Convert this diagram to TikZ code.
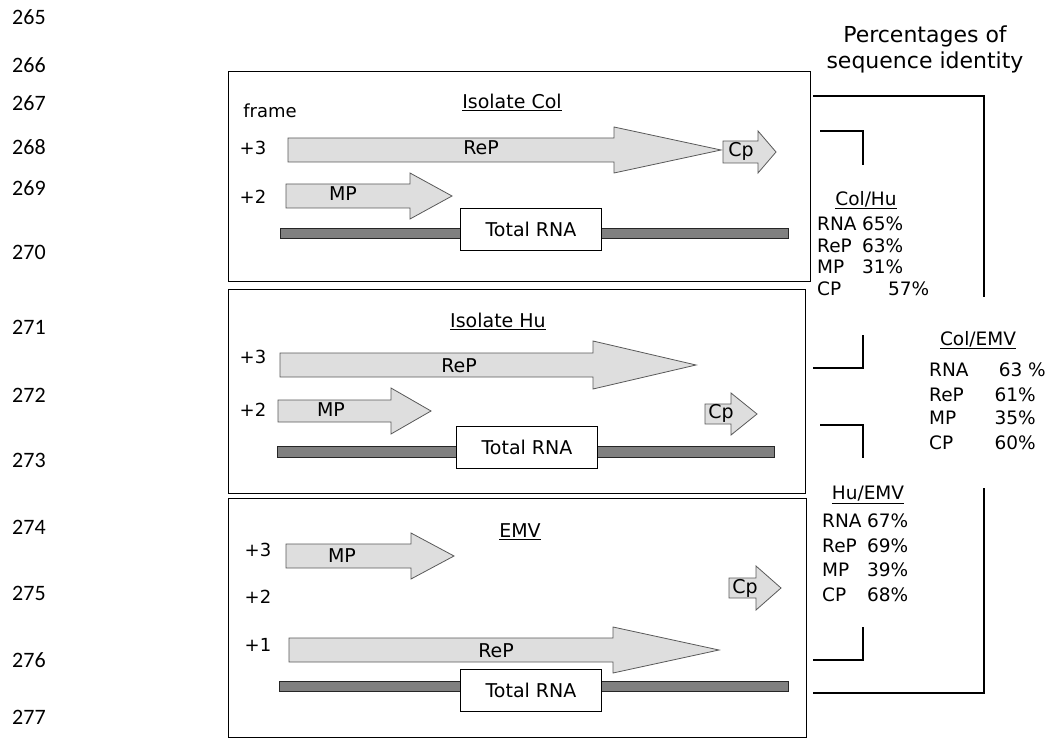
\documentclass[tikz,border=0pt]{standalone}
\usepackage{fontspec}
\setmainfont{DejaVu Sans}
\newfontfamily\numfont{Carlito}
\begin{document}
\begin{tikzpicture}[x=1pt,y=-1pt,
  panel/.style={draw=black, line width=1pt},
  gene/.style={draw=black!65, line width=0.8pt, fill=black!13},
  rnabar/.style={draw=black!85, line width=0.8pt, fill=black!50},
  rnabox/.style={draw=black, line width=0.8pt, fill=white, inner sep=0pt, minimum width=141pt, minimum height=42pt, font=\fontsize{19}{19}\selectfont},
  lbl/.style={font=\fontsize{19}{19}\selectfont, inner sep=0pt},
  frm/.style={font=\fontsize{18}{18}\selectfont, inner sep=0pt},
  lineno/.style={font=\numfont\fontsize{22}{22}\selectfont, anchor=west, inner sep=0pt},
  pct/.style={font=\fontsize{18.5}{18.5}\selectfont, anchor=west, inner sep=0pt},
  bracket/.style={draw=black, line width=1.5pt}]
\useasboundingbox (0,0) rectangle (1050,738);
% line numbers
\node[lineno] (n265) at (12,17) {265};
\node[lineno] (n266) at (12,65) {266};
\node[lineno] (n267) at (12,103) {267};
\node[lineno] (n268) at (12,147) {268};
\node[lineno] (n269) at (12,188) {269};
\node[lineno] (n270) at (12,252) {270};
\node[lineno] (n271) at (12,327) {271};
\node[lineno] (n272) at (12,395) {272};
\node[lineno] (n273) at (12,460) {273};
\node[lineno] (n274) at (12,527) {274};
\node[lineno] (n275) at (12,593) {275};
\node[lineno] (n276) at (12,660) {276};
\node[lineno] (n277) at (12,717) {277};
% panels
\node[panel, anchor=north west, minimum width=582pt, minimum height=210pt] (col) at (228,71) {};
\node[panel, anchor=north west, minimum width=577pt, minimum height=204pt] (hu) at (228,289) {};
\node[panel, anchor=north west, minimum width=578pt, minimum height=239pt] (emv) at (228,498) {};
% isolate Col
\node[lbl] (tcol) at (512,102) {\underline{Isolate Col}};
\node[frm] (frame) at (270,111) {frame};
\node[frm] (c3) at (253,148) {+3};
\node[frm] (c2) at (253,197) {+2};
\draw[gene] (288,138) -- (614,138) -- (614,127) -- (721,150) -- (614,173) -- (614,162) -- (288,162) -- cycle;
\draw[gene] (723,141) -- (758,141) -- (758,131) -- (776,152) -- (758,173) -- (758,163) -- (723,163) -- cycle;
\draw[gene] (286,184) -- (410,184) -- (410,173) -- (452,196) -- (410,219) -- (410,208) -- (286,208) -- cycle;
\node[lbl] (crep) at (481,148) {ReP};
\node[lbl] (ccp) at (741,151) {Cp};
\node[lbl] (cmp) at (343,194) {MP};
\draw[rnabar] (280,228) rectangle (788,238);
\node[rnabox] (crna) at (531,229) {Total RNA};
% isolate Hu
\node[lbl] (thu) at (498,321) {\underline{Isolate Hu}};
\node[frm] (h3) at (253,357) {+3};
\node[frm] (h2) at (253,410) {+2};
\draw[gene] (280,353) -- (593,353) -- (593,341) -- (696,365) -- (593,389) -- (593,377) -- (280,377) -- cycle;
\draw[gene] (278,400) -- (391,400) -- (391,388) -- (431,411) -- (391,434) -- (391,422) -- (278,422) -- cycle;
\draw[gene] (705,404) -- (731,404) -- (731,393) -- (757,414) -- (731,435) -- (731,424) -- (705,424) -- cycle;
\node[lbl] (hrep) at (459,366) {ReP};
\node[lbl] (hmp) at (331,410) {MP};
\node[lbl] (hcp) at (721,413) {Cp};
\draw[rnabar] (277,446) rectangle (774,457);
\node[rnabox] (hrna) at (527,447) {Total RNA};
% EMV
\node[lbl] (temv) at (520,532) {\underline{EMV}};
\node[frm] (e3) at (258,550) {+3};
\node[frm] (e2) at (258,597) {+2};
\node[frm] (e1) at (258,645) {+1};
\draw[gene] (286,544) -- (411,544) -- (411,533) -- (454,556) -- (411,579) -- (411,568) -- (286,568) -- cycle;
\draw[gene] (729,578) -- (756,578) -- (756,566) -- (781,588) -- (756,610) -- (756,598) -- (729,598) -- cycle;
\draw[gene] (289,638) -- (613,638) -- (613,627) -- (719,650) -- (613,673) -- (613,662) -- (289,662) -- cycle;
\node[lbl] (emp) at (342,556) {MP};
\node[lbl] (ecp) at (745,588) {Cp};
\node[lbl] (erep) at (496,651) {ReP};
\draw[rnabar] (279,681) rectangle (788,691);
\node[rnabox] (erna) at (531,690) {Total RNA};
% identities
\node[font=\fontsize{22}{26}\selectfont, align=center, inner sep=0pt] (hdr) at (925,49) {Percentages of\\sequence identity};
\node[pct, anchor=center] (tch) at (866,200) {\underline{Col/Hu}};
\node[pct] (ch1) at (817,224) {RNA};  \node[pct] (ch1v) at (862,224) {65\%};
\node[pct] (ch2) at (817,246) {ReP};  \node[pct] (ch2v) at (862,246) {63\%};
\node[pct] (ch3) at (817,267) {MP};   \node[pct] (ch3v) at (862,267) {31\%};
\node[pct] (ch4) at (817,289) {CP};   \node[pct] (ch4v) at (888,289) {57\%};
\node[pct, anchor=center] (tce) at (978,340) {\underline{Col/EMV}};
\node[pct] (ce1) at (929,370) {RNA};  \node[pct, anchor=east] (ce1v) at (1046,370) {63 \%};
\node[pct] (ce2) at (929,395) {ReP};  \node[pct, anchor=east] (ce2v) at (1036,395) {61\%};
\node[pct] (ce3) at (929,418) {MP};   \node[pct, anchor=east] (ce3v) at (1036,418) {35\%};
\node[pct] (ce4) at (929,443) {CP};   \node[pct, anchor=east] (ce4v) at (1036,443) {60\%};
\node[pct, anchor=center] (the) at (868,495) {\underline{Hu/EMV}};
\node[pct] (he1) at (822,521) {RNA};  \node[pct] (he1v) at (867,521) {67\%};
\node[pct] (he2) at (822,546) {ReP};  \node[pct] (he2v) at (867,546) {69\%};
\node[pct] (he3) at (822,570) {MP};   \node[pct] (he3v) at (867,570) {39\%};
\node[pct] (he4) at (822,595) {CP};   \node[pct] (he4v) at (867,595) {68\%};
% brackets
\coordinate (oa) at (813,96);  \coordinate (ob) at (813,693);
\coordinate (pa) at (820,131); \coordinate (pb) at (813,368);
\coordinate (qa) at (820,425); \coordinate (qb) at (813,660);
\draw[bracket] (oa) -- (984,96) -- (984,297);
\draw[bracket] (984,488) -- (984,693) -- (ob);
\draw[bracket] (pa) -- (863,131) -- (863,165);
\draw[bracket] (863,335) -- (863,368) -- (pb);
\draw[bracket] (qa) -- (863,425) -- (863,458);
\draw[bracket] (863,627) -- (863,660) -- (qb);
\end{tikzpicture}
\end{document}
